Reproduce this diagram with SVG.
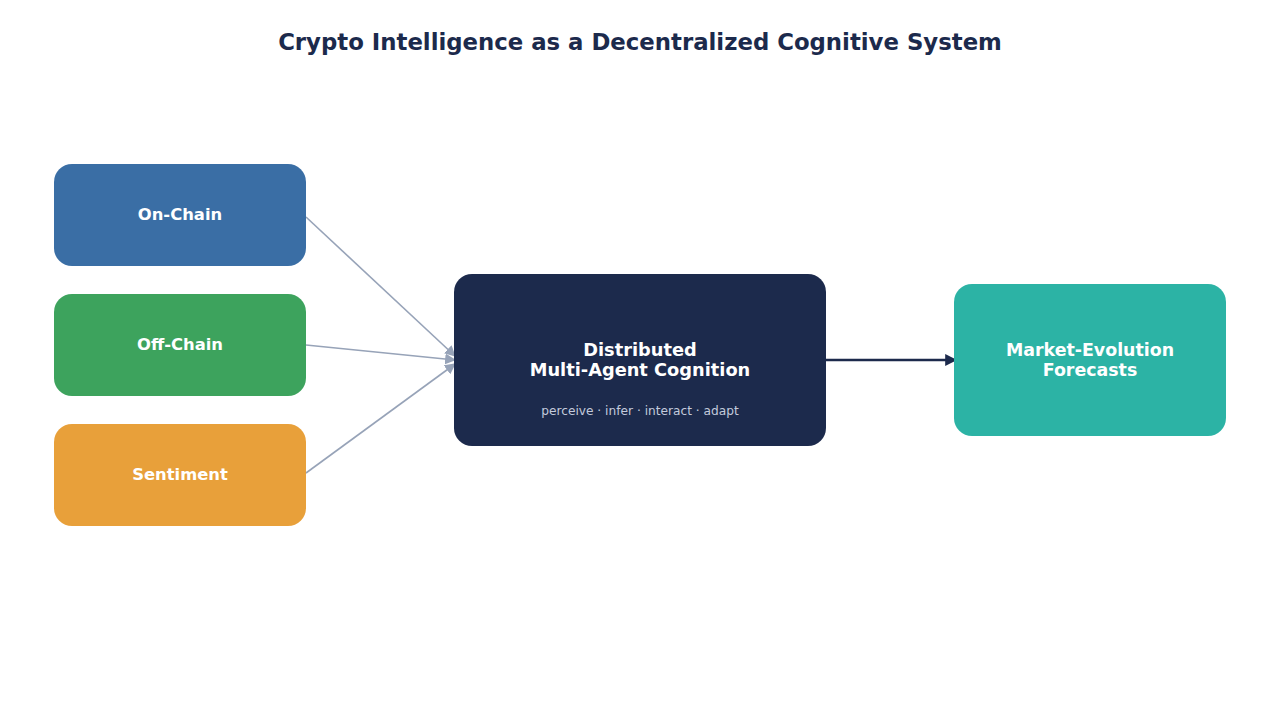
<svg xmlns="http://www.w3.org/2000/svg" width="1280" height="720" viewBox="0 0 1280 720">
<defs>
<style>
.t{font-family:"DejaVu Sans",sans-serif;font-weight:bold;fill:#fff;text-anchor:middle}
.title{font-family:"DejaVu Sans",sans-serif;font-weight:bold;fill:#1c2a4c;text-anchor:middle;font-size:22.8px}
.sub{font-family:"DejaVu Sans",sans-serif;fill:#c3cbdc;text-anchor:middle;font-size:12.2px}
.in{stroke:#97a3b8;stroke-width:1.6;fill:none}
</style>
<marker id="ag" viewBox="0 0 10 10" refX="9" refY="5" markerWidth="11" markerHeight="11" markerUnits="userSpaceOnUse" orient="auto"><path d="M0,0L10,5L0,10z" fill="#97a3b8"/></marker>
<marker id="an" viewBox="0 0 10 10" refX="9" refY="5" markerWidth="12" markerHeight="12" markerUnits="userSpaceOnUse" orient="auto"><path d="M0,0L10,5L0,10z" fill="#1c2a4c"/></marker>
</defs>
<rect width="1280" height="720" fill="#fff"/>
<text class="title" x="640" y="50">Crypto Intelligence as a Decentralized Cognitive System</text>
<g id="connectors">
<line class="in" x1="306" y1="217" x2="455" y2="356" marker-end="url(#ag)"/>
<line class="in" x1="306" y1="345" x2="455" y2="360" marker-end="url(#ag)"/>
<line class="in" x1="306" y1="473" x2="455" y2="364" marker-end="url(#ag)"/>
<line x1="826" y1="360" x2="956" y2="360" stroke="#1c2a4c" stroke-width="2.5" marker-end="url(#an)"/>
</g>
<g id="onchain"><rect x="54" y="164" width="252" height="102" rx="18" fill="#3a6ea5"/><text class="t" x="180" y="220" font-size="16.4">On-Chain</text></g>
<g id="offchain"><rect x="54" y="294" width="252" height="102" rx="18" fill="#3da35d"/><text class="t" x="180" y="350" font-size="16.4">Off-Chain</text></g>
<g id="sentiment"><rect x="54" y="424" width="252" height="102" rx="18" fill="#e8a03a"/><text class="t" x="180" y="480" font-size="16.4">Sentiment</text></g>
<g id="center"><rect x="454" y="274" width="372" height="172" rx="18" fill="#1c2a4c"/><text class="t" x="640" y="356" font-size="17.8">Distributed</text><text class="t" x="640" y="376" font-size="17.8">Multi-Agent Cognition</text><text class="sub" x="640" y="415">perceive · infer · interact · adapt</text></g>
<g id="forecast"><rect x="954" y="284" width="272" height="152" rx="18" fill="#2cb3a5"/><text class="t" x="1090" y="356" font-size="17.4">Market-Evolution</text><text class="t" x="1090" y="376" font-size="17.4">Forecasts</text></g>
</svg>
